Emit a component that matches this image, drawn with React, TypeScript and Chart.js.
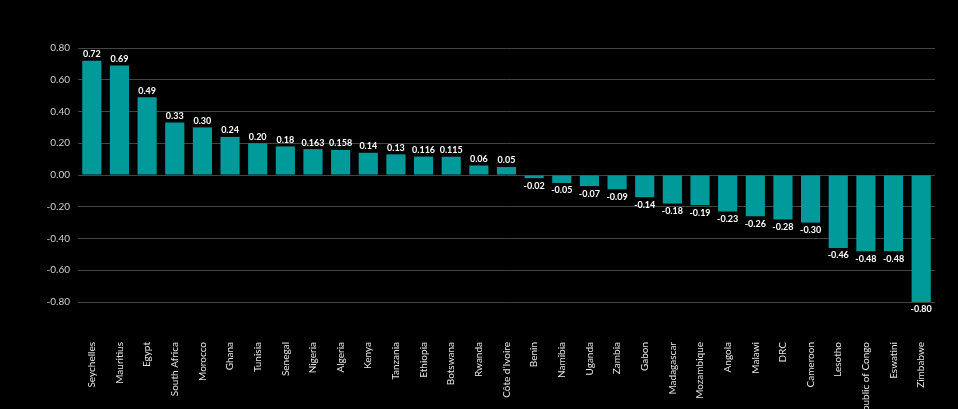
import React, { useEffect, useRef } from "react";
import { Chart, registerables } from "chart.js";

Chart.register(...registerables);

const countries = [
  "Seychelles", "Mauritius", "Egypt", "South Africa", "Morocco", "Ghana", "Tunisia",
  "Senegal", "Nigeria", "Algeria", "Kenya", "Tanzania", "Ethiopia", "Botswana",
  "Rwanda", "Côte d’Ivoire", "Benin", "Namibia", "Uganda", "Zambia", "Gabon",
  "Madagascar", "Mozambique", "Angola", "Malawi", "DRC", "Cameroon", "Lesotho",
  "Republic of Congo", "Eswatini", "Zimbabwe",
];

const values = [
  0.72, 0.69, 0.49, 0.33, 0.30, 0.24, 0.20, 0.18, 0.163, 0.158, 0.14, 0.13, 0.116,
  0.115, 0.06, 0.05, -0.02, -0.05, -0.07, -0.09, -0.14, -0.18, -0.19, -0.23, -0.26,
  -0.28, -0.30, -0.46, -0.48, -0.48, -0.80,
];

const valueLabels = [
  "0.72", "0.69", "0.49", "0.33", "0.30", "0.24", "0.20", "0.18", "0.163", "0.158",
  "0.14", "0.13", "0.116", "0.115", "0.06", "0.05", "-0.02", "-0.05", "-0.07", "-0.09",
  "-0.14", "-0.18", "-0.19", "-0.23", "-0.26", "-0.28", "-0.30", "-0.46", "-0.48",
  "-0.48", "-0.80",
];

const valueLabelPlugin = {
  id: "valueLabels",
  afterDatasetsDraw(chart: any) {
    const ctx = chart.ctx;
    const meta = chart.getDatasetMeta(0);
    ctx.save();
    ctx.font = "bold 9px Lato, 'Noto Sans', sans-serif";
    ctx.fillStyle = "#ffffff";
    ctx.textAlign = "center";
    meta.data.forEach((el: any, i: number) => {
      const v = values[i];
      if (v >= 0) {
        ctx.textBaseline = "bottom";
        ctx.fillText(valueLabels[i], el.x, el.y - 2);
      } else {
        ctx.textBaseline = "top";
        ctx.fillText(valueLabels[i], el.x, el.y + 3);
      }
    });
    ctx.restore();
  },
};

export default function App() {
  const ref = useRef<HTMLCanvasElement>(null);

  useEffect(() => {
    document.body.style.margin = "0";
    document.body.style.background = "#000";
    const chart = new Chart(ref.current!, {
      type: "bar",
      data: {
        labels: countries,
        datasets: [
          {
            data: values,
            backgroundColor: "#009a9a",
            borderWidth: 0,
            categoryPercentage: 0.9,
            barPercentage: 0.77,
          },
        ],
      },
      options: {
        animation: false,
        responsive: true,
        maintainAspectRatio: false,
        layout: { padding: { top: 48, right: 23, left: 0, bottom: 0 } },
        plugins: {
          legend: { display: false },
          tooltip: { enabled: false },
        },
        scales: {
          x: {
            grid: { display: false, drawTicks: false },
            border: { display: false },
            ticks: {
              color: "#e6e6e6",
              font: { size: 10, family: "Lato, 'Noto Sans', sans-serif" },
              maxRotation: 90,
              minRotation: 90,
              autoSkip: false,
              padding: 40,
            },
            afterFit(scale: any) {
              scale.height = 107;
              scale.paddingLeft = 0;
              scale.paddingRight = 0;
            },
          },
          y: {
            min: -0.8,
            max: 0.8,
            grid: { color: "#444444", lineWidth: 1, drawTicks: false },
            border: { display: false },
            ticks: {
              stepSize: 0.2,
              color: "#d0d0d0",
              padding: 8,
              font: { size: 10, family: "Lato, 'Noto Sans', sans-serif" },
              callback: (v: any) => Number(v).toFixed(2),
            },
            afterFit(scale: any) {
              scale.width = 78;
              scale.paddingTop = 0;
              scale.paddingBottom = 0;
            },
          },
        },
      },
      plugins: [valueLabelPlugin],
    });
    return () => chart.destroy();
  }, []);

  return (
    <div style={{ position: "absolute", left: 0, top: 0, width: 958, height: 409, background: "#000" }}>
      <canvas ref={ref} />
    </div>
  );
}
